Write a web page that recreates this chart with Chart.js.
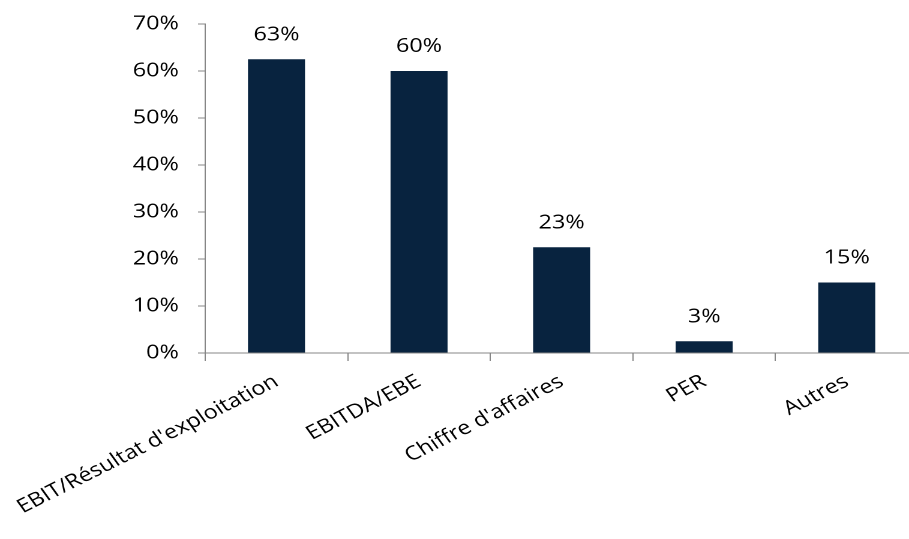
<!DOCTYPE html>
<html>
<head>
<meta charset="utf-8">
<script src="https://cdn.jsdelivr.net/npm/chart.js@4.4.1/dist/chart.umd.min.js"></script>
<style>
  html, body { margin: 0; padding: 0; background: #fff; overflow: hidden; width: 909px; height: 539px; }
  /* le graphique d'origine est légèrement étiré horizontalement */
  #wrap { width: 770px; height: 539px; transform: scaleX(1.2); transform-origin: 0 0; }
</style>
</head>
<body>
<div id="wrap"><canvas id="chart" width="770" height="539"></canvas></div>
<script>
const categories = ["EBIT/Résultat d'exploitation", "EBITDA/EBE", "Chiffre d'affaires", "PER", "Autres"];
const shares = [62.5, 60.0, 22.5, 2.5, 15.0];
const yTicks = [0, 10, 20, 30, 40, 50, 60, 70];

const barColor = "#08233F";
const axisColor = "#868686";
const font = { family: "'Open Sans', sans-serif", size: 19.5 };

// labels au-dessus des barres
const valueLabels = {
  id: "valueLabels",
  afterDatasetsDraw(chart) {
    const ctx = chart.ctx;
    const meta = chart.getDatasetMeta(0);
    ctx.save();
    ctx.font = font.size + "px " + font.family;
    ctx.fillStyle = "#000";
    ctx.textAlign = "center";
    ctx.textBaseline = "alphabetic";
    meta.data.forEach((bar, i) => {
      ctx.fillText(Math.round(shares[i]) + "%", bar.x, bar.y - 19);
    });
    ctx.restore();
  },
};

new Chart(document.getElementById("chart"), {
  type: "bar",
  data: {
    labels: categories,
    datasets: [{
      data: shares,
      backgroundColor: barColor,
      borderWidth: 0,
      barPercentage: 0.4,
      categoryPercentage: 1.0,
    }],
  },
  options: {
    responsive: false,
    animation: false,
    devicePixelRatio: 2,
    layout: { padding: { top: 24, right: 5, left: 0, bottom: 0 } },
    plugins: {
      legend: { display: false },
      tooltip: { enabled: false },
    },
    scales: {
      x: {
        grid: {
          offset: true,
          drawOnChartArea: false,
          drawTicks: true,
          tickLength: 8,
          color: axisColor,
        },
        border: { color: axisColor, width: 1 },
        ticks: {
          autoSkip: false,
          minRotation: 31,
          maxRotation: 31,
          padding: 9,
          color: "#000",
          font: font,
        },
        afterFit(scale) {
          scale.height = 186;
          // le premier label déborde à gauche, comme dans l'original
          scale.paddingLeft = 0;
        },
      },
      y: {
        min: 0,
        max: 70,
        afterBuildTicks(scale) { scale.ticks = yTicks.map((v) => ({ value: v })); },
        grid: {
          drawOnChartArea: false,
          drawTicks: true,
          tickLength: 6,
          color: axisColor,
        },
        border: { color: axisColor, width: 1 },
        ticks: {
          padding: 16,
          color: "#000",
          font: font,
          callback: (v) => v + "%",
        },
        afterFit(scale) {
          scale.width = 171;
          scale.paddingTop = 0;
          scale.paddingBottom = 0;
        },
      },
    },
  },
  plugins: [valueLabels],
});
</script>
</body>
</html>
